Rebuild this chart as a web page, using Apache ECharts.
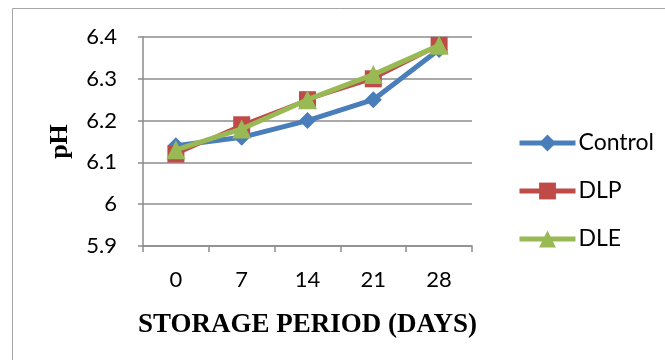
<!DOCTYPE html>
<html>
<head>
<meta charset="utf-8">
<script src="https://cdn.jsdelivr.net/npm/echarts@6/dist/echarts.min.js"></script>
<style>
  html, body { margin: 0; padding: 0; background: #fff; }
  #chart { width: 665px; height: 360px; }
</style>
</head>
<body>
<div id="chart"></div>
<script>
// storage days and pH values
const days = ['0', '7', '14', '21', '28'];
const control = [6.14, 6.16, 6.20, 6.25, 6.37];
const dlp = [6.12, 6.19, 6.25, 6.30, 6.38];
const dle = [6.13, 6.18, 6.25, 6.31, 6.38];

const labelFont = 'Lato, "Open Sans", sans-serif';
const serif = '"Liberation Serif", "Times New Roman", serif';

const chart = echarts.init(document.getElementById('chart'));

const option = {
  backgroundColor: '#fff',
  animation: false,
  graphic: [{
    type: 'rect',
    shape: { x: 12.5, y: 8.5, width: 700, height: 400 },
    style: { fill: 'none', stroke: '#a6a6a6', lineWidth: 1 }
  }],
  grid: { left: 143, right: 193, top: 37, bottom: 114 },
  legend: {
    orient: 'vertical',
    left: 512,
    top: 126,
    itemGap: 24,
    itemWidth: 56,
    itemHeight: 21,
    textStyle: { fontFamily: labelFont, fontSize: 23, lineHeight: 24, color: '#000', padding: [0, 0, 0, -2] },
    data: [
      { name: 'Control', lineStyle: { width: 5 } },
      { name: 'DLP', lineStyle: { width: 5 } },
      { name: 'DLE', lineStyle: { width: 5 } }
    ]
  },
  xAxis: {
    type: 'category',
    data: days,
    boundaryGap: true,
    name: 'STORAGE PERIOD (DAYS)',
    nameLocation: 'middle',
    nameGap: 66,
    nameTextStyle: { fontFamily: serif, fontWeight: 'bold', fontSize: 27, color: '#000' },
    axisLine: { lineStyle: { color: '#8c8c8c', width: 1.5 } },
    axisTick: { show: true, length: 6, alignWithLabel: false, lineStyle: { color: '#8c8c8c', width: 1.5 } },
    axisLabel: { fontFamily: labelFont, fontSize: 22, color: '#000', margin: 23 }
  },
  yAxis: {
    type: 'value',
    min: 5.9,
    max: 6.4,
    interval: 0.1,
    name: 'pH',
    nameLocation: 'middle',
    nameGap: 70,
    nameRotate: 90,
    nameTextStyle: { fontFamily: serif, fontWeight: 'bold', fontSize: 26, color: '#000' },
    axisLine: { show: true, lineStyle: { color: '#8c8c8c', width: 1.5 } },
    axisTick: { show: true, length: 5, lineStyle: { color: '#8c8c8c', width: 1.5 } },
    axisLabel: {
      fontFamily: labelFont, fontSize: 22, color: '#000', margin: 26,
      formatter: v => String(Math.round(v * 10) / 10)
    },
    splitLine: { lineStyle: { color: '#8c8c8c', width: 1.5 } }
  },
  series: [
    {
      name: 'Control',
      type: 'line',
      data: control,
      symbol: 'diamond',
      symbolSize: 17,
      color: '#4a7ebb',
      lineStyle: { width: 5, color: '#4a7ebb' },
      itemStyle: { color: '#4a7ebb' },
      z: 2
    },
    {
      name: 'DLP',
      type: 'line',
      data: dlp,
      symbol: 'rect',
      symbolSize: 17,
      color: '#be4b48',
      lineStyle: { width: 3.5, color: '#be4b48' },
      itemStyle: { color: '#be4b48' },
      z: 3
    },
    {
      name: 'DLE',
      type: 'line',
      data: dle,
      symbol: 'triangle',
      symbolSize: 19,
      color: '#98b954',
      lineStyle: { width: 5, color: '#98b954' },
      itemStyle: { color: '#98b954' },
      z: 4
    }
  ]
};

chart.setOption(option);
</script>
</body>
</html>
